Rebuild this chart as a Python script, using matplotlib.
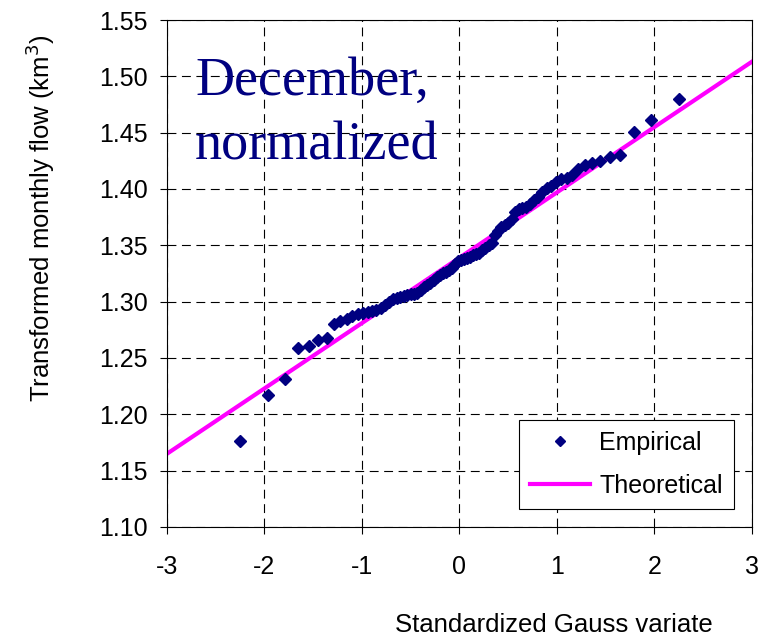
import matplotlib
matplotlib.use("Agg")
import matplotlib.pyplot as plt

plt.rcParams["font.family"] = ["Liberation Sans", "DejaVu Sans"]
plt.rcParams["axes.unicode_minus"] = False

# plotting positions (standard normal quantiles of i/(n+1), n = 80)
z = [-2.247, -1.965, -1.786, -1.651, -1.541, -1.446, -1.363, -1.288, -1.221, -1.158,
     -1.099, -1.044, -0.992, -0.943, -0.896, -0.851, -0.807, -0.765, -0.724, -0.684,
     -0.645, -0.608, -0.571, -0.535, -0.500, -0.465, -0.431, -0.397, -0.364, -0.331,
     -0.298, -0.266, -0.234, -0.203, -0.171, -0.140, -0.109, -0.077, -0.046, -0.015,
     0.015, 0.046, 0.077, 0.109, 0.140, 0.171, 0.203, 0.234, 0.266, 0.298,
     0.331, 0.364, 0.397, 0.431, 0.465, 0.500, 0.535, 0.571, 0.608, 0.645,
     0.684, 0.724, 0.765, 0.807, 0.851, 0.896, 0.943, 0.992, 1.044, 1.099,
     1.158, 1.221, 1.288, 1.363, 1.446, 1.541, 1.651, 1.786, 1.965, 2.247]

# sorted transformed December flows
flow = [1.176, 1.217, 1.231, 1.259, 1.261, 1.266, 1.268, 1.280, 1.283, 1.285,
        1.287, 1.289, 1.290, 1.291, 1.292, 1.293, 1.294, 1.297, 1.300, 1.302,
        1.303, 1.304, 1.305, 1.306, 1.307, 1.307, 1.308, 1.310, 1.313, 1.315,
        1.317, 1.319, 1.322, 1.324, 1.325, 1.326, 1.328, 1.330, 1.333, 1.336,
        1.337, 1.338, 1.339, 1.340, 1.341, 1.342, 1.343, 1.346, 1.348, 1.350,
        1.352, 1.359, 1.363, 1.366, 1.368, 1.370, 1.373, 1.380, 1.382, 1.383,
        1.384, 1.387, 1.390, 1.393, 1.397, 1.401, 1.403, 1.406, 1.409, 1.410,
        1.412, 1.418, 1.421, 1.423, 1.425, 1.428, 1.430, 1.451, 1.461, 1.480]

# fitted normal distribution: mean and standard deviation
mu = 1.339
sigma = 0.058
z_line = [-3, 3]
flow_line = [mu + sigma * v for v in z_line]

xticks = [-3, -2, -1, 0, 1, 2, 3]
yticks = [1.10, 1.15, 1.20, 1.25, 1.30, 1.35, 1.40, 1.45, 1.50, 1.55]

fig = plt.figure(figsize=(7.72, 6.37), dpi=100)
ax = fig.add_axes([0.2163, 0.1727, 0.7577, 0.7959])

ax.plot(z_line, flow_line, color="#FF00FF", lw=3, label="Theoretical", zorder=2)
ax.plot(z, flow, "D", color="#000080", ms=6, mec="#000080", label="Empirical", zorder=3)

ax.set_xlim(-3, 3)
ax.set_ylim(1.10, 1.55)
ax.set_xticks(xticks)
ax.set_yticks(yticks)
ax.set_yticklabels(["%.2f" % v for v in yticks])
ax.grid(True, color="black", ls=(0, (8, 5)), lw=0.8)
ax.tick_params(direction="out", length=5, width=0.8, labelsize=18)
ax.tick_params(axis="x", pad=15)
ax.tick_params(axis="y", pad=9)
for s in ax.spines.values():
    s.set_linewidth(0.8)

fig.text(40 / 772, 1 - 218 / 637, "Transformed monthly flow (km$^3$)",
         fontsize=18.5, rotation=90, ha="center", va="center")
fig.text(554 / 772, 1 - 625 / 637, "Standardized Gauss variate",
         fontsize=18.5, ha="center", va="center")

fig.text(195 / 772, 1 - 95 / 637, "December,", fontsize=39,
         color="#000080", family="Liberation Serif", va="baseline")
fig.text(195 / 772, 1 - 159 / 637, "normalized", fontsize=39,
         color="#000080", family="Liberation Serif", va="baseline")

h, l = ax.get_legend_handles_labels()
leg = ax.legend(h[::-1], l[::-1], loc="lower right", fontsize=18,
                fancybox=False, edgecolor="black", framealpha=1,
                borderpad=0.45, labelspacing=0.75, handlelength=2.4,
                handletextpad=0.35, borderaxespad=0, markerscale=0.85,
                bbox_to_anchor=(0.969, 0.0355))
leg.get_frame().set_linewidth(0.8)

fig.savefig("out.png", dpi=100)
